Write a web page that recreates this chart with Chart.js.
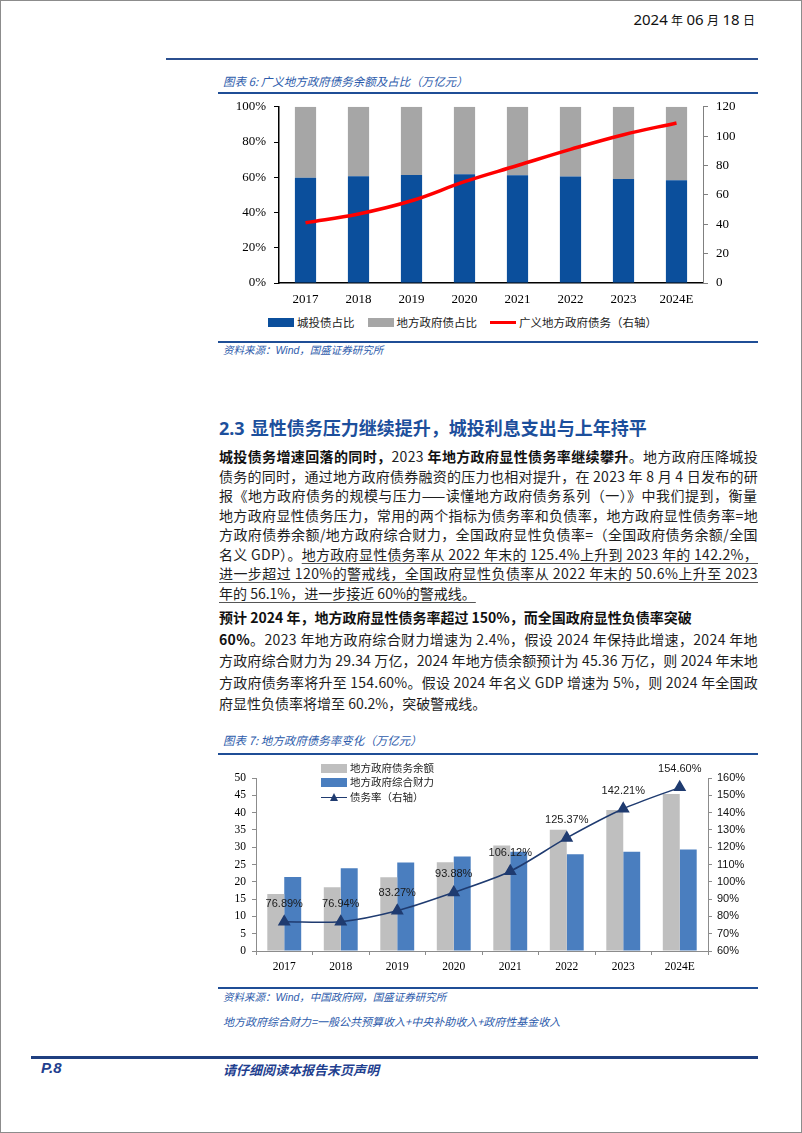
<!DOCTYPE html>
<html>
<head>
<meta charset="utf-8">
<script src="https://cdn.jsdelivr.net/npm/chart.js@4.4.0/dist/chart.umd.min.js"></script>
<style>
  html, body { margin: 0; padding: 0; background: #fff; }
  #page { position: relative; width: 800px; height: 1131px; border: 1px solid #8c8c8c; overflow: hidden;
          font-family: "Noto Sans CJK SC", sans-serif; color: #1e1e1e; }
  .rule { position: absolute; background: #1f4e96; }
  .cap { position: absolute; left: 222px; font-size: 11.5px; line-height: 14px; font-style: italic; color: #2d5bab; white-space: nowrap; }
  .ln { position: absolute; left: 218px; font-size: 14px; line-height: 20px; white-space: nowrap; }
  .ln span { display: inline-block; }
  u { text-decoration-color: #555; text-underline-offset: 3px; }
  b { font-weight: 700; color: #111; }
  .lg { position: absolute; font-size: 11.5px; line-height: 16px; white-space: nowrap; display: flex; align-items: center; color: #222; }
  .sw { display: inline-block; margin-right: 3px; }
  .lg2 { position: absolute; left: 320px; font-size: 10.5px; line-height: 14px; white-space: nowrap; display: flex; align-items: center; color: #222; }
</style>
</head>
<body>
<div id="page">
  <!-- header -->
  <div style="position:absolute; right:46px; top:8px; font-size:15px; line-height:20px; color:#111; white-space:nowrap;">
    <span style="font-family:'Noto Sans';">2024</span> <span style="font-size:12px;">年</span>
    <span style="font-family:'Noto Sans';">06</span> <span style="font-size:12px;">月</span>
    <span style="font-family:'Noto Sans';">18</span> <span style="font-size:12px;">日</span>
  </div>
  <div class="rule" style="left:165px; top:57px; width:592px; height:1.5px; background:#2b4f8f;"></div>

  <!-- chart 6 -->
  <div class="cap" style="top:73px;">图表 6: 广义地方政府债务余额及占比（万亿元）</div>
  <div class="rule" style="left:217px; top:91px; width:540px; height:2px;"></div>
  <canvas id="c1" width="545" height="222" style="position:absolute; left:215px; top:90px;"></canvas>
  <div class="lg" style="left:267px; top:313px;">
    <span class="sw" style="width:26px; height:9px; background:#0b4f9c;"></span>城投债占比
    <span class="sw" style="width:26px; height:9px; background:#a6a6a6; margin-left:13px;"></span>地方政府债占比
    <span class="sw" style="width:26px; height:3px; background:#ff0000; margin-left:13px;"></span>广义地方政府债务（右轴）
  </div>
  <div class="rule" style="left:217px; top:340px; width:540px; height:1.5px;"></div>
  <div class="cap" style="top:342px; font-size:10.5px;">资料来源：<span style="font-family:'Liberation Sans';">Wind</span>，国盛证券研究所</div>

  <!-- section text -->
  <div style="position:absolute; left:218px; top:414px; font-size:18px; line-height:24px; font-weight:700; color:#1c4f9c; white-space:nowrap;">
    <span style="font-family:'Noto Sans'; margin-right:6px;">2.3</span>显性债务压力继续提升，城投利息支出与上年持平
  </div>

  <div class="ln j" style="top:445px;"><span><b>城投债务增速回落的同时，</b>2023 <b>年地方政府显性债务率继续攀升</b>。地方政府压降城投</span></div>
  <div class="ln j" style="top:464.5px;"><span>债务的同时，通过地方政府债券融资的压力也相对提升，在 2023 年 8 月 4 日发布的研</span></div>
  <div class="ln j" style="top:484px;"><span>报《地方政府债务的规模与压力——读懂地方政府债务系列（一）》中我们提到，衡量</span></div>
  <div class="ln j" style="top:503.5px;"><span>地方政府显性债务压力，常用的两个指标为债务率和负债率，地方政府显性债务率=地</span></div>
  <div class="ln j" style="top:523px;"><span>方政府债券余额/地方政府综合财力，全国政府显性负债率=（全国政府债务余额/全国</span></div>
  <div class="ln j" style="top:542.5px;"><span>名义 GDP）。<u>地方政府显性债务率从 2022 年末的 125.4%上升到 2023 年的 142.2%，</u></span></div>
  <div class="ln j" style="top:562px;"><span><u>进一步超过 120%的警戒线，全国政府显性负债率从 2022 年末的 50.6%上升至 2023</u></span></div>
  <div class="ln" style="top:581.5px;"><span><u>年的 56.1%，进一步接近 60%的警戒线。</u></span></div>

  <div class="ln" style="top:606px;"><span><b>预计 2024 年，地方政府显性债务率超过 150%，而全国政府显性负债率突破</b></span></div>
  <div class="ln j" style="top:627.5px;"><span><b>60%</b>。2023 年地方政府综合财力增速为 2.4%，假设 2024 年保持此增速，2024 年地</span></div>
  <div class="ln j" style="top:649px;"><span>方政府综合财力为 29.34 万亿，2024 年地方债余额预计为 45.36 万亿，则 2024 年末地</span></div>
  <div class="ln j" style="top:670.5px;"><span>方政府债务率将升至 154.60%。假设 2024 年名义 GDP 增速为 5%，则 2024 年全国政</span></div>
  <div class="ln" style="top:692px;"><span>府显性负债率将增至 60.2%，突破警戒线。</span></div>

  <!-- chart 7 -->
  <div class="cap" style="top:732px;">图表 7: 地方政府债务率变化（万亿元）</div>
  <div class="rule" style="left:217px; top:752px; width:540px; height:1.5px;"></div>
  <canvas id="c2" width="545" height="220" style="position:absolute; left:215px; top:757px;"></canvas>
  <div class="lg2" style="top:760px;"><span class="sw" style="width:26px; height:9px; background:#bfbfbf;"></span>地方政府债务余额</div>
  <div class="lg2" style="top:774px;"><span class="sw" style="width:26px; height:9px; background:#4a7ebf;"></span>地方政府综合财力</div>
  <div class="lg2" style="top:789px;"><span class="sw" style="width:26px; height:9px; position:relative;">
      <span style="position:absolute; left:0; top:4px; width:26px; height:1.5px; background:#1f3b70;"></span>
      <span style="position:absolute; left:9px; top:0; width:0; height:0; border-left:4px solid transparent; border-right:4px solid transparent; border-bottom:8px solid #1f3b70;"></span>
    </span>债务率（右轴）</div>
  <div class="rule" style="left:217px; top:986px; width:540px; height:1.5px;"></div>
  <div class="cap" style="top:989px; font-size:10.5px;">资料来源：<span style="font-family:'Liberation Sans';">Wind</span>，中国政府网，国盛证券研究所</div>
  <div class="cap" style="top:1013px; font-size:11px;">地方政府综合财力=一般公共预算收入+中央补助收入+政府性基金收入</div>

  <!-- footer -->
  <div class="rule" style="left:30px; top:1055px; width:727px; height:3px; background:#1f3f80;"></div>
  <div style="position:absolute; left:40px; top:1058px; font-family:'Liberation Sans'; font-size:15px; font-weight:700; font-style:italic; color:#1f3f8f;">P.8</div>
  <div style="position:absolute; left:222px; top:1059px; font-size:13px; font-weight:700; font-style:italic; color:#1f3f8f;">请仔细阅读本报告末页声明</div>
</div>

<script>
const years = ['2017', '2018', '2019', '2020', '2021', '2022', '2023', '2024E'];

// 图表6: share (%) and broad local gov debt (万亿元, right axis)
const lgfvShare = [59.8, 60.6, 61.3, 61.7, 61.1, 60.4, 59.0, 58.3];
const localGovShare = [40.2, 39.4, 38.7, 38.3, 38.9, 39.6, 41.0, 41.7];
const broadDebt = [41, 47, 56, 69, 80, 91, 101, 109];

// 图表7
const debtBalance = [16.47, 18.39, 21.31, 25.66, 30.47, 35.07, 40.74, 45.36];
const fiscalCapacity = [21.42, 23.90, 25.59, 27.33, 28.71, 27.97, 28.65, 29.34];
const debtRatio = [76.89, 76.94, 83.27, 93.88, 106.12, 125.37, 142.21, 154.60];

// ----------------------
// justify body lines
// ----------------------
const LINE_W = 539;
document.querySelectorAll('.ln').forEach(el => {
  const span = el.querySelector('span');
  const w = span.getBoundingClientRect().width;
  const n = span.textContent.length;
  if (el.classList.contains('j') || w > LINE_W) {
    span.style.letterSpacing = ((LINE_W - w) / n) + 'px';
  }
});

const serif = { family: '"Liberation Serif", serif', size: 13 };

// ----------------------
// 图表6
// ----------------------
new Chart(document.getElementById('c1'), {
  data: {
    labels: years,
    datasets: [
      { type: 'line', data: broadDebt, borderColor: '#ff0000', borderWidth: 3.5, tension: 0.4,
        pointRadius: 0, yAxisID: 'y1', order: 0 },
      { type: 'bar', data: lgfvShare, backgroundColor: '#0b4f9c', stack: 's', yAxisID: 'y',
        barPercentage: 0.4, categoryPercentage: 1, order: 1 },
      { type: 'bar', data: localGovShare, backgroundColor: '#a6a6a6', stack: 's', yAxisID: 'y',
        barPercentage: 0.4, categoryPercentage: 1, order: 1 }
    ]
  },
  options: {
    responsive: false,
    animation: false,
    layout: { padding: { top: 3, bottom: 0, left: 0, right: 0 } },
    plugins: { legend: { display: false }, tooltip: { enabled: false } },
    scales: {
      x: {
        stacked: true,
        grid: { display: true, drawOnChartArea: false, drawTicks: false },
        border: { color: '#000', width: 1.5 },
        ticks: { font: serif, color: '#000', padding: 9 },
        afterFit: s => { s.height = 30; }
      },
      y: {
        stacked: true, min: 0, max: 100,
        grid: { drawOnChartArea: false, tickLength: 5, color: '#000' },
        border: { color: '#000', width: 1.5 },
        ticks: { stepSize: 20, font: serif, color: '#000', padding: 8, callback: v => v + '%' },
        afterFit: s => { s.width = 63; }
      },
      y1: {
        position: 'right', min: 0, max: 120,
        grid: { drawOnChartArea: false, tickLength: 5, color: '#808080' },
        border: { color: '#808080', width: 1 },
        ticks: { stepSize: 20, font: serif, color: '#000', padding: 8 },
        afterFit: s => { s.width = 58; }
      }
    }
  }
});

// ----------------------
// 图表7
// ----------------------
const ratioLabels = {
  id: 'ratioLabels',
  afterDatasetsDraw(chart) {
    const meta = chart.getDatasetMeta(0);
    const ctx = chart.ctx;
    ctx.save();
    ctx.font = '11px "Liberation Sans"';
    ctx.fillStyle = '#1a1a1a';
    ctx.textAlign = 'center';
    ctx.textBaseline = 'middle';
    meta.data.forEach((pt, i) => ctx.fillText(debtRatio[i].toFixed(2) + '%', pt.x, pt.y - 18));
    ctx.restore();
  }
};

new Chart(document.getElementById('c2'), {
  data: {
    labels: years,
    datasets: [
      { type: 'line', data: debtRatio, yAxisID: 'y1', borderColor: '#1f3b70', borderWidth: 1.5,
        tension: 0.3, pointStyle: 'triangle', pointRadius: 6, pointBackgroundColor: '#1f3b70',
        pointBorderColor: '#1f3b70', order: 0 },
      { type: 'bar', data: debtBalance, backgroundColor: '#bfbfbf', yAxisID: 'y',
        barPercentage: 1, categoryPercentage: 0.6, order: 1 },
      { type: 'bar', data: fiscalCapacity, backgroundColor: '#4a7ebf', yAxisID: 'y',
        barPercentage: 1, categoryPercentage: 0.6, order: 1 }
    ]
  },
  options: {
    responsive: false,
    animation: false,
    layout: { padding: { top: 20, bottom: 0, left: 0, right: 0 } },
    plugins: { legend: { display: false }, tooltip: { enabled: false } },
    scales: {
      x: {
        grid: { display: true, drawOnChartArea: false, tickLength: 4, color: '#8c8c8c' },
        border: { color: '#8c8c8c', width: 1 },
        ticks: { font: { family: '"Liberation Serif", serif', size: 11.5 }, color: '#000', padding: 5 },
        afterFit: s => { s.height = 27; }
      },
      y: {
        min: 0, max: 50,
        grid: { drawOnChartArea: false, tickLength: 4, color: '#8c8c8c' },
        border: { color: '#8c8c8c', width: 1 },
        ticks: { stepSize: 5, font: { family: '"Liberation Serif", serif', size: 11.5 }, color: '#000', padding: 6 },
        afterFit: s => { s.width = 40; }
      },
      y1: {
        position: 'right', min: 60, max: 160,
        grid: { drawOnChartArea: false, tickLength: 4, color: '#8c8c8c' },
        border: { color: '#8c8c8c', width: 1 },
        ticks: { stepSize: 10, font: { family: '"Liberation Sans", sans-serif', size: 11 }, color: '#111',
                 padding: 5, callback: v => v + '%' },
        afterFit: s => { s.width = 53; }
      }
    }
  },
  plugins: [ratioLabels]
});
</script>
</body>
</html>
